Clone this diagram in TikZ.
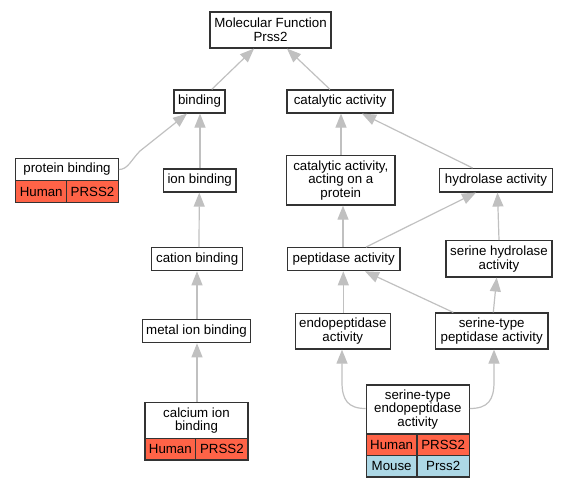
\documentclass[tikz,border=0pt]{standalone}
\usepackage{fontspec}
\setmainfont{Liberation Sans}
\usetikzlibrary{arrows.meta}
\definecolor{edgegray}{HTML}{C0C0C0}
\definecolor{human}{HTML}{FF6347}
\definecolor{mouse}{HTML}{ADD8E6}
\definecolor{bord}{HTML}{333333}
\tikzset{
  box/.style={draw=bord, line width=1.2pt, fill=white, inner sep=0pt, align=center,
    font=\fontsize{13.3}{13.6}\selectfont, text=black},
  hcell/.style={box, fill=human},
  mcell/.style={box, fill=mouse},
  edge/.style={draw=edgegray, line width=1.2pt, -{Triangle[length=14pt,width=11pt]}},
}
\begin{document}
\begin{tikzpicture}[x=1pt,y=-1pt]
\useasboundingbox (0,0) rectangle (568,488);
% nodes
\node[box, minimum width=121pt, minimum height=36pt] (mf) at (270.5,30) {Molecular Function\\Prss2};
\node[box, minimum width=51pt, minimum height=23pt] (bind) at (199.5,101.5) {binding};
\node[box, minimum width=106pt, minimum height=23pt] (cat) at (340,101.5) {catalytic activity};
% protein binding
\node[box, minimum width=102.6pt, minimum height=21.6pt] (pb) at (67,169.5) {protein binding};
\node[hcell, minimum width=51pt, minimum height=22.4pt] (pbh) at (41.2,191.5) {Human};
\node[hcell, minimum width=51.6pt, minimum height=22.4pt] (pbg) at (92.5,191.5) {PRSS2};
\node[box, minimum width=72.7pt, minimum height=23pt] (ion) at (199.7,180.5) {ion binding};
\node[box, minimum width=108.3pt, minimum height=49.7pt] (catp) at (340.8,180.2) {catalytic activity,\\acting on a\\protein};
\node[box, minimum width=113.4pt, minimum height=23.3pt] (hyd) at (496,180.3) {hydrolase activity};
\node[box, minimum width=91pt, minimum height=23pt] (cation) at (197.2,259.2) {cation binding};
\node[box, minimum width=108.4pt, minimum height=23.4pt] (metal) at (196.5,331) {metal ion binding};
% calcium ion binding
\node[box, minimum width=103pt, minimum height=36.4pt] (cal) at (196.5,420.5) {calcium ion\\binding};
\node[hcell, minimum width=50.7pt, minimum height=21.3pt] (calh) at (170.35,449.35) {Human};
\node[hcell, minimum width=52.3pt, minimum height=21.3pt] (calg) at (221.85,449.35) {PRSS2};
\node[box, minimum width=112.7pt, minimum height=23pt] (pep) at (343.7,259.2) {peptidase activity};
\node[box, minimum width=106pt, minimum height=36.3pt] (shyd) at (499,258.8) {serine hydrolase\\activity};
\node[box, minimum width=95pt, minimum height=35.7pt] (endo) at (342.8,331.2) {endopeptidase\\activity};
\node[box, minimum width=112.7pt, minimum height=36pt] (stp) at (491.7,331) {serine-type\\peptidase activity};
% serine-type endopeptidase activity
\node[box, minimum width=103pt, minimum height=49pt] (ste) at (417.8,409.5) {serine-type\\endopeptidase\\activity};
\node[hcell, minimum width=50.7pt, minimum height=21.3pt] (steh) at (391.65,444.65) {Human};
\node[hcell, minimum width=52.3pt, minimum height=21.3pt] (steg) at (443.15,444.65) {PRSS2};
\node[mcell, minimum width=50.7pt, minimum height=21.7pt] (stem) at (391.65,466.15) {Mouse};
\node[mcell, minimum width=52.3pt, minimum height=21.7pt] (stemg) at (443.15,466.15) {Prss2};
% edges
\draw[edge] (bind.north -| 211.7,0) -- (mf.south -| 254,0);
\draw[edge] (cat.north -| 330,0) -- (mf.south -| 287,0);
\draw[edge] (pb.east) .. controls (128,169.5) and (131,160) .. (140,151) -- (bind.south -| 187,0);
\draw[edge] (ion.north -| 200,0) -- (bind.south -| 200,0);
\draw[edge] (cation.north -| 199,0) -- (ion.south -| 199.3,0);
\draw[edge] (metal.north -| 197,0) -- (cation.south -| 197,0);
\draw[edge] (cal.north -| 197,0) -- (metal.south -| 197,0);
\draw[edge] (catp.north -| 341,0) -- (cat.south -| 341,0);
\draw[edge] (hyd.north -| 472.7,0) -- (cat.south -| 362,0);
\draw[edge] (pep.north -| 343,0) -- (catp.south -| 343,0);
\draw[edge] (pep.north -| 366,0) -- (hyd.south -| 476,0);
\draw[edge] (shyd.north -| 499,0) -- (hyd.south -| 497.5,0);
\draw[edge] (endo.north -| 343.3,0) -- (pep.south -| 343.3,0);
\draw[edge] (stp.north -| 453.3,0) -- (pep.south -| 365,0);
\draw[edge] (stp.north -| 493.3,0) -- (shyd.south -| 496.7,0);
\draw[edge] (ste.west |- 0,408.5) .. controls (348,408.5) and (342,400) .. (342,382) -- (endo.south -| 342,0);
\draw[edge] (ste.east |- 0,408.5) .. controls (488,408.5) and (494,400) .. (494,382) -- (stp.south -| 494,0);
\end{tikzpicture}
\end{document}
